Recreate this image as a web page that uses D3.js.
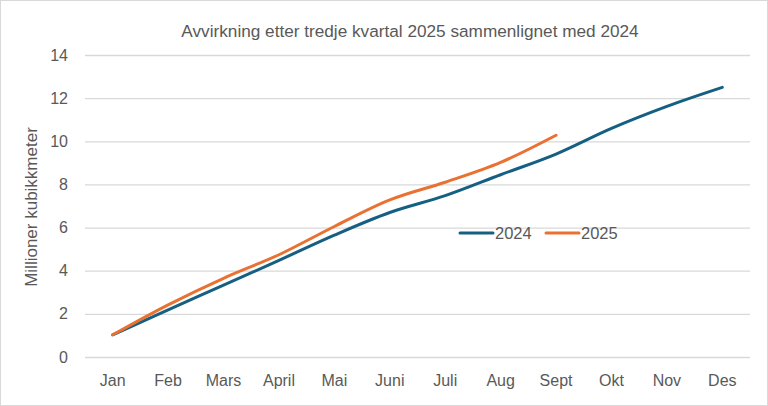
<!DOCTYPE html>
<html>
<head>
<meta charset="utf-8">
<script src="https://cdn.jsdelivr.net/npm/d3@7"></script>
<style>
  body { margin: 0; background: #fff; }
  svg { display: block; }
</style>
</head>
<body>
<svg id="chart"></svg>
<script>
const months = ["Jan", "Feb", "Mars", "April", "Mai", "Juni", "Juli", "Aug", "Sept", "Okt", "Nov", "Des"];
const values2024 = [1.03, 2.19, 3.33, 4.48, 5.65, 6.7, 7.48, 8.45, 9.41, 10.6, 11.62, 12.5];
const values2025 = [1.03, 2.42, 3.65, 4.74, 6.05, 7.28, 8.1, 9.02, 10.28];
const yTicks = [0, 2, 4, 6, 8, 10, 12, 14];

const width = 768,
  height = 406;
const margin = { top: 55, right: 18, bottom: 49, left: 85 };
const narrow = "'Liberation Sans Narrow', 'Arial Narrow', sans-serif";

const svg = d3.select("#chart").attr("width", width).attr("height", height);

// outer frame
svg
  .append("rect")
  .attr("x", 0.5)
  .attr("y", 0.5)
  .attr("width", width - 1)
  .attr("height", height - 1)
  .attr("fill", "#fff")
  .attr("stroke", "#d9d9d9");

const x = d3
  .scaleBand()
  .domain(months)
  .range([margin.left, width - margin.right]);

const y = d3
  .scaleLinear()
  .domain([0, 14])
  .range([height - margin.bottom, margin.top]);

// gridlines + y labels
const yAxis = svg
  .append("g")
  .attr("transform", `translate(${margin.left},0)`)
  .call(
    d3
      .axisLeft(y)
      .tickValues(yTicks)
      .tickSize(-(width - margin.left - margin.right))
      .tickPadding(17)
  );
yAxis.select(".domain").remove();
yAxis.selectAll("line").attr("stroke", "#d9d9d9").attr("stroke-width", 1.3);
yAxis
  .selectAll("text")
  .attr("fill", "#595959")
  .style("font-family", narrow)
  .style("font-size", "16px");

// x labels
const xAxis = svg
  .append("g")
  .attr("transform", `translate(0,${height - margin.bottom})`)
  .call(d3.axisBottom(x).tickSize(0).tickPadding(18));
xAxis.select(".domain").remove();
xAxis
  .selectAll("text")
  .attr("fill", "#595959")
  .style("font-family", narrow)
  .style("font-size", "16px");

const line = d3
  .line()
  .x((d, i) => x(months[i]) + x.bandwidth() / 2)
  .y((d) => y(d))
  .curve(d3.curveMonotoneX);

svg
  .append("path")
  .datum(values2024)
  .attr("d", line)
  .attr("fill", "none")
  .attr("stroke", "#156082")
  .attr("stroke-width", 3)
  .attr("stroke-linecap", "round");

svg
  .append("path")
  .datum(values2025)
  .attr("d", line)
  .attr("fill", "none")
  .attr("stroke", "#e97132")
  .attr("stroke-width", 3)
  .attr("stroke-linecap", "round");

// legend
const legend = [
  { name: "2024", color: "#156082", x: 460 },
  { name: "2025", color: "#e97132", x: 546 },
];
const lg = svg
  .append("g")
  .selectAll("g")
  .data(legend)
  .join("g")
  .attr("transform", (d) => `translate(${d.x},233)`);
lg.append("line")
  .attr("x1", 0)
  .attr("x2", 33)
  .attr("stroke", (d) => d.color)
  .attr("stroke-width", 3)
  .attr("stroke-linecap", "round");
lg.append("text")
  .attr("x", 35)
  .attr("dy", "0.35em")
  .attr("fill", "#595959")
  .style("font-family", "'Liberation Sans', Arial, sans-serif")
  .style("font-size", "16.5px")
  .text((d) => d.name);

// title
svg
  .append("text")
  .attr("x", 410)
  .attr("y", 37)
  .attr("text-anchor", "middle")
  .attr("fill", "#595959")
  .style("font-family", narrow)
  .style("font-size", "17.2px")
  .text("Avvirkning etter tredje kvartal 2025 sammenlignet med 2024");

// y axis title
svg
  .append("text")
  .attr("transform", "translate(37,207) rotate(-90)")
  .attr("text-anchor", "middle")
  .attr("fill", "#595959")
  .style("font-family", narrow)
  .style("font-size", "17px")
  .text("Millioner kubikkmeter");
</script>
</body>
</html>
